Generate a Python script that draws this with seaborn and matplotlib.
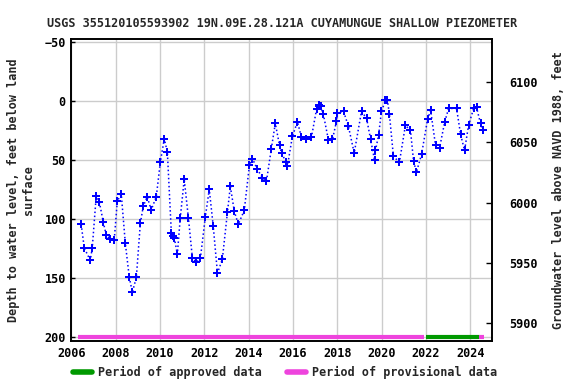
import numpy as np
import pandas as pd
import matplotlib
matplotlib.use('Agg')
import matplotlib.pyplot as plt
from matplotlib.lines import Line2D
import seaborn as sns

# ---------- DATA (decimal year, depth below land surface in ft) ----------
years = [
    2006.44, 2006.58, 2006.85, 2006.94, 2007.12, 2007.26, 2007.44, 2007.57, 2007.75, 2007.93,
    2008.07, 2008.25, 2008.43, 2008.61, 2008.75, 2008.93, 2009.11, 2009.24, 2009.42, 2009.60,
    2009.83, 2010.01, 2010.19, 2010.33, 2010.51, 2010.60, 2010.64, 2010.78, 2010.91, 2011.09,
    2011.28, 2011.46, 2011.64, 2011.82, 2012.04, 2012.22, 2012.40, 2012.59, 2012.81, 2013.04,
    2013.17, 2013.35, 2013.53, 2013.80, 2014.03, 2014.17, 2014.39, 2014.62, 2014.80, 2015.02,
    2015.20, 2015.39, 2015.48, 2015.70, 2015.75, 2015.97, 2016.20, 2016.38, 2016.60, 2016.83,
    2017.06, 2017.15, 2017.19, 2017.24, 2017.37, 2017.60, 2017.78, 2017.96, 2018.00, 2018.28,
    2018.50, 2018.76, 2019.09, 2019.32, 2019.50, 2019.68, 2019.72, 2019.86, 2019.99, 2020.17,
    2020.26, 2020.35, 2020.53, 2020.80, 2021.07, 2021.30, 2021.44, 2021.57, 2021.80, 2022.07,
    2022.21, 2022.43, 2022.61, 2022.84, 2023.02, 2023.38, 2023.56, 2023.74, 2023.92, 2024.15,
    2024.28, 2024.46, 2024.55,
]
depth = [
    104.4, 124.5, 134.9, 124.5, 80.2, 85.5, 102.7, 113.7, 116.8, 118.0,
    84.7, 79.0, 120.0, 149.3, 162.0, 149.3, 103.6, 89.2, 81.0, 92.3,
    81.0, 51.9, 31.9, 43.4, 112.0, 114.3, 115.7, 129.8, 99.3, 66.3,
    99.3, 133.2, 136.6, 133.2, 98.5, 74.8, 106.1, 145.9, 134.0, 94.2,
    72.2, 93.4, 104.4, 92.6, 54.5, 48.8, 57.9, 64.9, 68.0, 40.4,
    18.9, 37.5, 44.3, 51.9, 54.8, 29.9, 17.5, 30.7, 32.4, 30.7,
    7.0, 4.2, 3.1, 4.2, 11.3, 33.3, 32.4, 17.2, 10.2, 8.7,
    21.4, 44.0, 8.7, 14.7, 32.4, 50.2, 41.7, 29.0, 8.7, -0.6,
    -0.6, 11.3, 46.8, 51.9, 20.6, 24.8, 51.1, 60.1, 45.1, 15.5,
    7.9, 37.5, 40.0, 18.0, 6.2, 6.2, 28.2, 41.7, 20.6, 6.2,
    5.3, 18.9, 24.8,
]

# approval periods (start, end) in decimal years
provisional_periods = [(2006.3, 2021.9), (2024.4, 2024.6)]
approved_periods = [(2022.0, 2024.4)]

title = 'USGS 355120105593902 19N.09E.28.121A CUYAMUNGUE SHALLOW PIEZOMETER'
left_ticks = [-50, 0, 50, 100, 150, 200]
right_ticks = [5900, 5950, 6000, 6050, 6100]
x_ticks = [2006, 2008, 2010, 2012, 2014, 2016, 2018, 2020, 2022, 2024]

BLUE = '#0000ff'
GREEN = '#009900'
PINK = '#ee44dd'

df = pd.DataFrame({'year': years, 'depth': depth})

# ---------- PLOT ----------
sns.set_style('white')
plt.rcParams['font.family'] = ['DejaVu Sans Mono']
plt.rcParams['font.weight'] = 'bold'
plt.rcParams['font.size'] = 8.5

fig = plt.figure(figsize=(5.76, 3.84), dpi=100)
ax = fig.add_axes([0.124, 0.112, 0.731, 0.786])

ax.grid(True, color='#cccccc', lw=1)
ax.set_axisbelow(True)

sns.lineplot(data=df, x='year', y='depth', ax=ax, color=BLUE, lw=1.1,
             linestyle=':', marker='P', markersize=5.5, markeredgewidth=0,
             estimator=None, sort=False, zorder=3)

for s, e in provisional_periods:
    ax.plot([s, e], [200, 200], color=PINK, lw=3, solid_capstyle='butt', zorder=2)
for s, e in approved_periods:
    ax.plot([s, e], [200, 200], color=GREEN, lw=3, solid_capstyle='butt', zorder=2)

ax.set_xlim(2006, 2025)
ax.set_ylim(203.3, -52.5)
ax.set_xticks(x_ticks)
ax.set_yticks(left_ticks)
ax.tick_params(direction='in', length=3, width=1, colors='black', pad=4)
ax.set_xlabel('')
ax.set_ylabel('Depth to water level, feet below land\nsurface', fontweight='bold', labelpad=7)
ax.set_title(title, fontweight='bold', fontsize=8.5, pad=9)
for sp in ax.spines.values():
    sp.set_color('black')
    sp.set_linewidth(1.2)

ax2 = ax.twinx()
ax2.set_ylim(5885.3, 6135.3)
ax2.set_yticks(right_ticks)
ax2.tick_params(direction='in', length=4, width=1, colors='black', pad=12)
ax2.set_ylabel('Groundwater level above NAVD 1988, feet', fontweight='bold', labelpad=10)
for sp in ax2.spines.values():
    sp.set_color('black')
    sp.set_linewidth(1.2)

handles = [Line2D([], [], color=GREEN, lw=4), Line2D([], [], color=PINK, lw=4)]
fig.legend(handles, ['Period of approved data', 'Period of provisional data'],
           loc='center', bbox_to_anchor=(0.495, 0.03), ncol=2, frameon=False,
           handlelength=1.6, columnspacing=2.2, handletextpad=0.5)

fig.savefig('out.png', dpi=100)
